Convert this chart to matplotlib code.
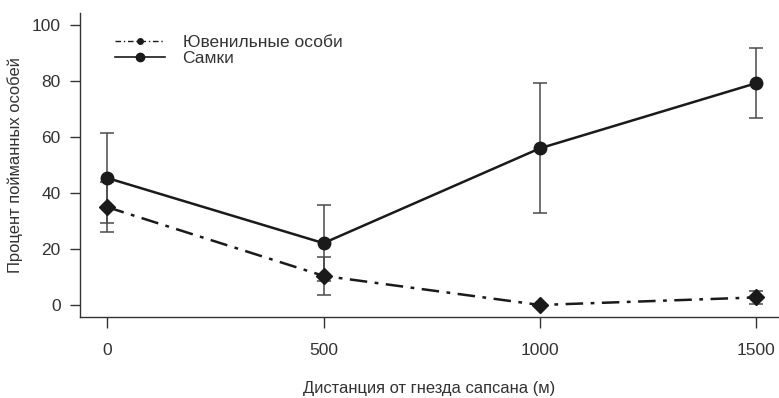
"""
Процент пойманных особей vs дистанция от гнезда сапсана
"""

# ==========================================================
# IMPORT LIBRARIES
# ==========================================================

import matplotlib
matplotlib.use("Agg")
import matplotlib.pyplot as plt
from matplotlib.lines import Line2D

# ==========================================================
# DATA
# ==========================================================

distance = [0, 500, 1000, 1500]

females = [45.4, 22.1, 56.0, 79.3]
females_err = [16.0, 13.6, 23.2, 12.5]

juveniles = [35.0, 10.4, 0.0, 2.7]
juveniles_err = [9.0, 6.9, 0.0, 2.3]

x_ticks = [0, 500, 1000, 1500]
y_ticks = [0, 20, 40, 60, 80, 100]

LINE_COLOR = "#1a1a1a"
ERR_COLOR = "#4a4a4a"
TEXT_COLOR = "#333333"

plt.rcParams["font.family"] = ["Liberation Sans", "DejaVu Sans"]

# ==========================================================
# PLOT
# ==========================================================

def draw():

    fig = plt.figure(figsize=(7.79, 3.98), dpi=100)

    ax = fig.add_axes([0.1027, 0.2035, 0.8973, 0.7635])

    ax.errorbar(
        distance,
        juveniles,
        yerr=juveniles_err,
        fmt="none",
        ecolor=ERR_COLOR,
        elinewidth=1.1,
        capsize=4.7,
        capthick=1.1,
        zorder=2
    )

    ax.errorbar(
        distance,
        females,
        yerr=females_err,
        fmt="none",
        ecolor=ERR_COLOR,
        elinewidth=1.1,
        capsize=4.7,
        capthick=1.1,
        zorder=2
    )

    ax.plot(
        distance,
        juveniles,
        color=LINE_COLOR,
        linestyle=(0, (7, 3, 1.5, 3)),
        linewidth=1.8,
        marker="D",
        markersize=8,
        zorder=3
    )

    ax.plot(
        distance,
        females,
        color=LINE_COLOR,
        linestyle="-",
        linewidth=1.8,
        marker="o",
        markersize=9,
        zorder=4
    )

    ax.set_xlim(-62.4, 1552)
    ax.set_ylim(-4.3, 104.3)

    ax.set_xticks(x_ticks)
    ax.set_yticks(y_ticks)

    ax.spines["top"].set_visible(False)
    ax.spines["right"].set_visible(False)

    for side in ["left", "bottom"]:
        ax.spines[side].set_color("#333333")
        ax.spines[side].set_linewidth(1.0)

    ax.tick_params(
        axis="x",
        direction="out",
        length=8,
        width=1.0,
        color="#333333",
        pad=11,
        labelsize=12.5,
        labelcolor=TEXT_COLOR
    )

    ax.tick_params(
        axis="y",
        direction="out",
        length=7,
        width=1.0,
        color="#333333",
        pad=7,
        labelsize=12.5,
        labelcolor=TEXT_COLOR
    )

    ax.set_xlabel(
        "Дистанция от гнезда сапсана (м)",
        fontsize=11.9,
        color=TEXT_COLOR,
        labelpad=16
    )

    ax.set_ylabel(
        "Процент пойманных особей",
        fontsize=11.9,
        color=TEXT_COLOR,
        labelpad=6
    )

    handles = [
        Line2D(
            [0], [0],
            color=LINE_COLOR,
            linestyle=(0, (4, 2, 1, 2)),
            linewidth=1.0,
            marker="o",
            markersize=4
        ),
        Line2D(
            [0], [0],
            color=LINE_COLOR,
            linestyle="-",
            linewidth=1.2,
            marker="o",
            markersize=6
        )
    ]

    legend = ax.legend(
        handles,
        ["Ювенильные особи", "Самки"],
        loc="upper left",
        bbox_to_anchor=(0.04, 0.952),
        frameon=False,
        fontsize=12.5,
        handlelength=2.9,
        handletextpad=1.0,
        labelspacing=0.05,
        borderaxespad=0
    )

    for text in legend.get_texts():
        text.set_color(TEXT_COLOR)

    fig.savefig("out.png", dpi=100)

    plt.close(fig)


# ==========================================================
# DRIVER
# ==========================================================

if __name__ == "__main__":

    draw()
